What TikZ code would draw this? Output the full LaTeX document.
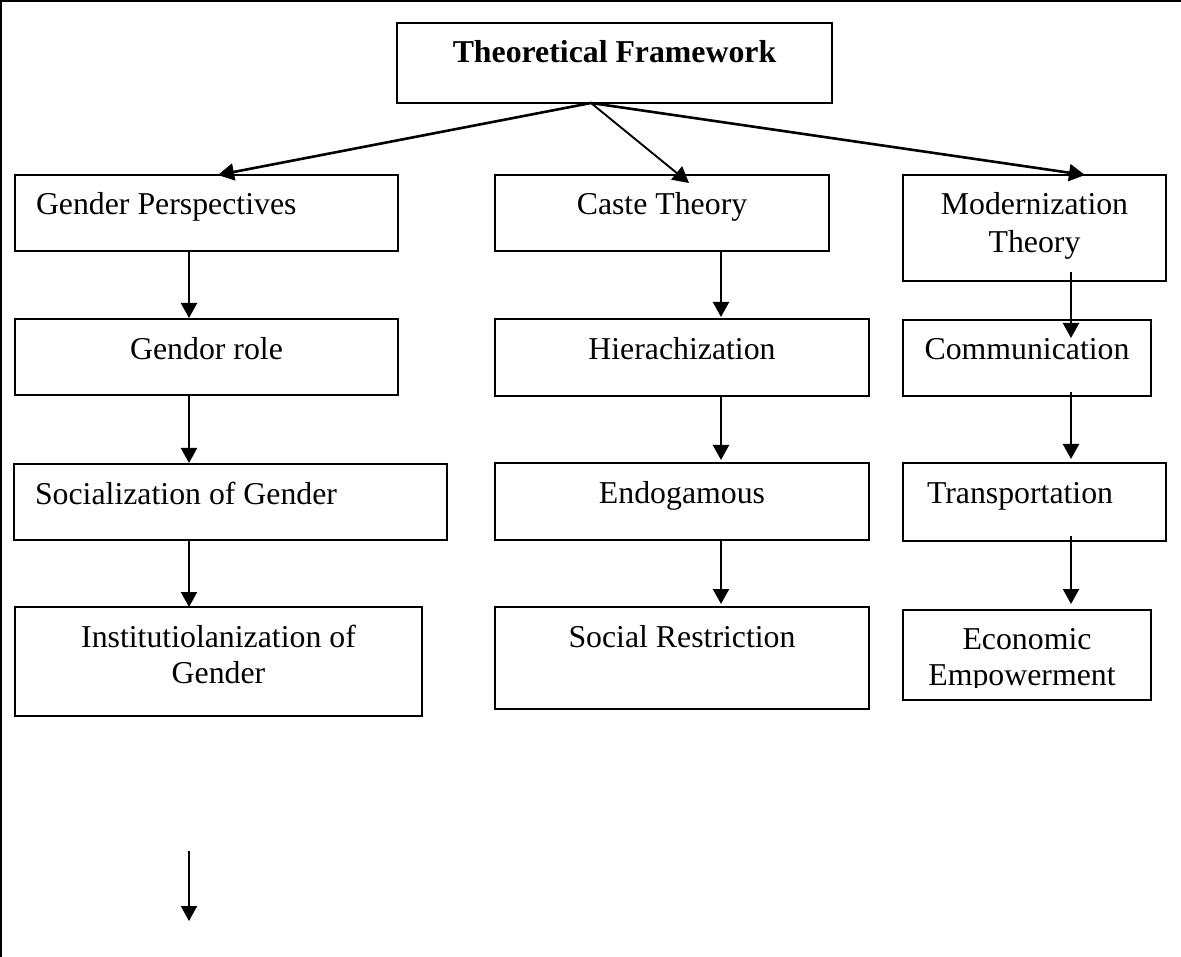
\documentclass[tikz,border=0pt]{standalone}
\usepackage{fontspec}
\setmainfont{Liberation Serif}
\usetikzlibrary{arrows.meta,calc}
\begin{document}
\begin{tikzpicture}[x=1pt,y=-1pt,
  box/.style={draw, line width=2pt, rectangle, inner sep=0pt, outer sep=0pt, anchor=north west},
  txt/.style={inner sep=0pt, outer sep=0pt, font=\fontsize{31.8}{37}\selectfont, anchor=base},
  ltxt/.style={txt, anchor=base west},
  arr/.style={line width=2.2pt, -{Triangle[length=15pt,width=16pt]}},
  tarr/.style={line width=2.6pt, -{Triangle[length=16pt,width=17pt]}}
]
\useasboundingbox (0,0) rectangle (1181,957);
% frame (left and top edges only)
\draw[line width=2.4pt] (1.2,957) -- (1.2,1.2) -- (1181,1.2);

% boxes
\node[box, minimum width=435pt, minimum height=80pt] (tf) at (397,23) {};
\node[box, minimum width=383pt, minimum height=76pt] (gp) at (15,175) {};
\node[box, minimum width=334pt, minimum height=76pt] (ct) at (495,175) {};
\node[box, minimum width=263pt, minimum height=106pt] (mt) at (903,175) {};
\node[box, minimum width=383pt, minimum height=76pt] (gr) at (15,319) {};
\node[box, minimum width=374pt, minimum height=77pt] (hi) at (495,319) {};
\node[box, minimum width=248pt, minimum height=76pt] (co) at (903,320) {};
\node[box, minimum width=433pt, minimum height=76pt] (sg) at (14,464) {};
\node[box, minimum width=374pt, minimum height=77pt] (en) at (495,463) {};
\node[box, minimum width=263pt, minimum height=78pt] (tr) at (903,463) {};
\node[box, minimum width=407pt, minimum height=109pt] (ig) at (15,607) {};
\node[box, minimum width=374pt, minimum height=102pt] (sr) at (495,607) {};
\node[box, minimum width=248pt, minimum height=90pt] (ee) at (903,610) {};

% texts
\node[txt, font=\fontsize{31.8}{37}\selectfont\bfseries] (tft) at ($(tf.north)+(0,40)$) {Theoretical Framework};
\node[ltxt] (gpt) at ($(gp.north west)+(21,40)$) {Gender Perspectives};
\node[txt] (ctt) at ($(ct.north)+(0,40)$) {Caste Theory};
\node[txt] (mtt1) at ($(mt.north)+(0,40)$) {Modernization};
\node[txt] (mtt2) at ($(mt.north)+(0,78)$) {Theory};
\node[txt] (grt) at ($(gr.north)+(0,41)$) {Gendor role};
\node[txt] (hit) at ($(hi.north)+(0,41)$) {Hierachization};
\node[txt] (cot) at ($(co.north)+(0,40)$) {Communication};
\node[ltxt] (sgt) at ($(sg.north west)+(21,40)$) {Socialization of Gender};
\node[txt] (ent) at ($(en.north)+(0,40)$) {Endogamous};
\node[ltxt] (trt) at ($(tr.north west)+(24,40)$) {Transportation};
\node[txt] (igt1) at ($(ig.north)+(0,40)$) {Institutiolanization of};
\node[txt] (igt2) at ($(ig.north)+(0,76)$) {Gender};
\node[txt] (srt) at ($(sr.north)+(0,40)$) {Social Restriction};
\node[txt] (eet1) at ($(ee.north)+(0,39)$) {Economic};
\begin{scope}
  \clip (903,600) rectangle (1151,687);
  \node[txt] (eet2) at ($(ee.north)+(-5,75)$) {Empowerment};
\end{scope}

% connectors from the title box
\draw[tarr] ($(tf.south west)+(194,0)$) -- ($(gp.north west)+(203,0)$);
\draw[tarr, line width=1.9pt] ($(tf.south west)+(194,0)$) -- ($(ct.north west)+(194,8)$);
\draw[tarr] ($(tf.south west)+(194,0)$) -- ($(mt.north west)+(182,0)$);

% left column
\draw[arr] ($(gp.south west)+(174,0)$) -- ($(gr.north west)+(174,-1)$);
\draw[arr] ($(gr.south west)+(174,0)$) -- ($(sg.north west)+(175,-1)$);
\draw[arr] ($(sg.south west)+(175,0)$) -- ($(ig.north west)+(174,0)$);

% middle column
\draw[arr] ($(ct.south west)+(226,0)$) -- ($(hi.north west)+(226,-2)$);
\draw[arr] ($(hi.south west)+(226,0)$) -- ($(en.north west)+(226,-3)$);
\draw[arr] ($(en.south west)+(226,0)$) -- ($(sr.north west)+(226,-3)$);

% right column
\draw[arr] ($(mt.south west)+(168,-9)$) -- ($(co.north west)+(168,18)$);
\draw[arr] ($(co.south west)+(168,-4)$) -- ($(tr.north west)+(168,-4)$);
\draw[arr] ($(tr.south west)+(168,-5)$) -- ($(ee.north west)+(168,-6)$);

% stray arrow at the bottom
\coordinate (b1) at (189,851);
\coordinate (b2) at (189,921);
\draw[arr, line width=1.8pt] (b1) -- (b2);
\end{tikzpicture}
\end{document}
